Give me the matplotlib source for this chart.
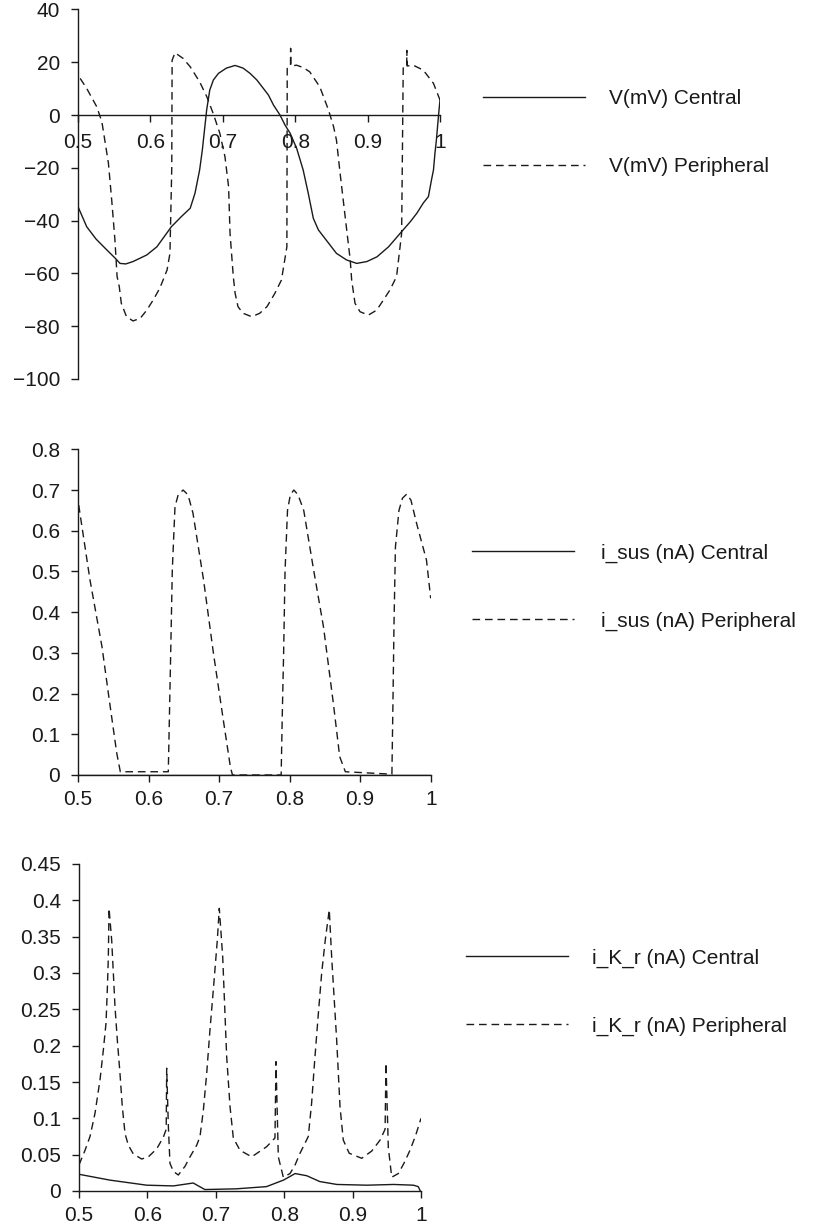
import matplotlib
matplotlib.use("Agg")
import matplotlib.pyplot as plt
from matplotlib.ticker import FuncFormatter

plt.rcParams['font.family'] = ['Liberation Sans', 'DejaVu Sans']
plt.rcParams['font.size'] = 15
plt.rcParams['lines.scale_dashes'] = False

# ---- Membrane potential (mV) ----
t_v_central = [0.500, 0.512, 0.525, 0.538, 0.552, 0.558, 0.566, 0.576, 0.595,
               0.609, 0.629, 0.643, 0.655, 0.6616, 0.668, 0.6717, 0.6777, 0.682,
               0.687, 0.694, 0.705, 0.717, 0.728, 0.7376, 0.747, 0.756, 0.763,
               0.770, 0.779, 0.786, 0.793, 0.802, 0.811, 0.818, 0.825, 0.832,
               0.839, 0.857, 0.871, 0.885, 0.899, 0.913, 0.929, 0.945, 0.959,
               0.968, 0.977, 0.984, 0.9885, 0.991, 0.993, 0.995, 0.998, 1.000]
v_central = [-34.7, -42.3, -47.0, -50.6, -54.4, -56.2, -56.4, -55.5, -53.0,
             -49.9, -42.3, -38.4, -35.3, -29.6, -20.8, -13.3, 1.9, 9.5,
             13.3, 15.8, 17.8, 18.8, 17.8, 15.8, 13.3, 10.1, 7.6,
             3.8, 0.0, -3.8, -6.9, -12.6, -20.8, -29.6, -39.1, -43.5,
             -46.0, -52.4, -54.9, -56.2, -55.5, -53.7, -49.9, -44.8, -40.4,
             -37.2, -33.3, -30.9, -24.2, -20.8, -14.5, -9.5, 0.0, 5.7]

t_v_periph = [0.503, 0.512, 0.526, 0.533, 0.537, 0.542, 0.5465, 0.551, 0.554,
              0.557, 0.5598, 0.567, 0.576, 0.586, 0.595, 0.604, 0.613, 0.623,
              0.627, 0.6295, 0.6300, 0.634, 0.645, 0.655, 0.668, 0.678, 0.687,
              0.696, 0.703, 0.708, 0.710, 0.7145, 0.717, 0.721, 0.728, 0.740,
              0.751, 0.761, 0.772, 0.781, 0.7885, 0.7890, 0.7935, 0.7937, 0.7940,
              0.802, 0.811, 0.820, 0.834, 0.846, 0.853, 0.857, 0.862, 0.869,
              0.876, 0.878, 0.8826, 0.8895, 0.901, 0.9126, 0.922, 0.931, 0.940,
              0.947, 0.9492, 0.9496, 0.9540, 0.9542, 0.9545, 0.963, 0.977, 0.991,
              1.000]
v_periph = [13.9, 10.1, 3.1, -2.6, -9.5, -18.2, -32.0, -47.3, -61.2,
            -65.0, -71.3, -76.4, -78.0, -77.0, -73.9, -70.0, -65.6, -58.7,
            -52.4, -20.0, 20.8, 23.6, 21.5, 18.3, 12.6, 6.9, 0.4,
            -7.0, -15.8, -27.2, -44.8, -61.2, -67.5, -72.6, -75.1, -76.4,
            -75.1, -72.6, -67.5, -62.5, -49.9, 17.7, 18.5, 25.3, 18.6,
            18.9, 18.0, 16.4, 10.7, 1.9, -4.4, -9.5, -22.0, -38.5,
            -54.9, -62.5, -71.3, -74.5, -75.8, -73.9, -70.0, -66.2, -61.2,
            -44.8, 17.7, 18.2, 18.5, 24.5, 18.6, 18.9, 17.0, 12.0,
            5.7]

# ---- Sustained current i_sus (nA) ----
t_isus_central = [0.5, 1.0]
isus_central = [0.0, 0.0]

t_isus_periph = [0.501, 0.517, 0.534, 0.545, 0.555, 0.560, 0.628, 0.6295, 0.6314,
                 0.6337, 0.6375, 0.642, 0.649, 0.656, 0.663, 0.678, 0.692, 0.706,
                 0.716, 0.719, 0.788, 0.7895, 0.7915, 0.7935, 0.797, 0.801, 0.806,
                 0.812, 0.820, 0.834, 0.848, 0.862, 0.871, 0.879, 0.945, 0.9465,
                 0.948, 0.950, 0.955, 0.960, 0.966, 0.972, 0.980, 0.994, 1.000]
isus_periph = [0.663, 0.479, 0.315, 0.176, 0.053, 0.008, 0.008, 0.135, 0.299,
               0.504, 0.659, 0.688, 0.700, 0.688, 0.643, 0.479, 0.299, 0.135,
               0.020, 0.000, 0.000, 0.140, 0.300, 0.500, 0.650, 0.688, 0.700,
               0.688, 0.650, 0.504, 0.364, 0.176, 0.045, 0.008, 0.002, 0.180,
               0.373, 0.560, 0.650, 0.680, 0.690, 0.675, 0.618, 0.528, 0.434]

# ---- Rapid delayed rectifier i_K_r (nA) ----
t_ikr_central = [0.500, 0.545, 0.599, 0.638, 0.667, 0.684, 0.730, 0.774, 0.799,
                 0.816, 0.833, 0.852, 0.877, 0.921, 0.960, 0.989, 0.996, 0.999]
ikr_central = [0.023, 0.015, 0.008, 0.007, 0.011, 0.002, 0.003, 0.006, 0.015,
               0.024, 0.021, 0.013, 0.009, 0.008, 0.009, 0.008, 0.006, 0.000]

t_ikr_periph = [0.500, 0.5088, 0.5161, 0.5234, 0.5307, 0.5356, 0.5395, 0.5414, 0.5429,
                0.5439, 0.5478, 0.5502, 0.5526, 0.5560, 0.5599, 0.5633, 0.5673, 0.5721,
                0.5794, 0.5916, 0.6014, 0.6136, 0.6233, 0.6275, 0.6282, 0.6306, 0.6330,
                0.6379, 0.6452, 0.6550, 0.6623, 0.6721, 0.6769, 0.6818, 0.6867, 0.6915,
                0.6964, 0.7022, 0.7051, 0.7101, 0.7159, 0.7208, 0.7256, 0.7354, 0.7525,
                0.7744, 0.7865, 0.7880, 0.7914, 0.7987, 0.8085, 0.8160, 0.8231, 0.8300,
                0.8352, 0.8400, 0.8450, 0.8500, 0.8548, 0.8600, 0.8659, 0.8694, 0.8767,
                0.8816, 0.8864, 0.8950, 0.9133, 0.9280, 0.9401, 0.9475, 0.9488, 0.9522,
                0.9572, 0.9668, 0.9750, 0.9839, 0.9920, 1.0000]
ikr_periph = [0.036, 0.056, 0.075, 0.107, 0.153, 0.194, 0.231, 0.277, 0.322,
              0.389, 0.345, 0.300, 0.254, 0.208, 0.162, 0.116, 0.079, 0.063,
              0.051, 0.044, 0.047, 0.058, 0.074, 0.085, 0.169, 0.090, 0.038,
              0.027, 0.022, 0.034, 0.047, 0.063, 0.075, 0.111, 0.162, 0.222,
              0.277, 0.345, 0.389, 0.322, 0.185, 0.116, 0.073, 0.056, 0.047,
              0.061, 0.073, 0.178, 0.047, 0.019, 0.024, 0.036, 0.052, 0.065,
              0.075, 0.120, 0.185, 0.245, 0.300, 0.345, 0.387, 0.322, 0.208,
              0.116, 0.070, 0.052, 0.045, 0.055, 0.070, 0.085, 0.176, 0.060,
              0.019, 0.024, 0.038, 0.056, 0.076, 0.100]

x_ticks = [0.5, 0.6, 0.7, 0.8, 0.9, 1.0]
v_ticks = [40, 20, 0, -20, -40, -60, -80, -100]
isus_ticks = [0, 0.1, 0.2, 0.3, 0.4, 0.5, 0.6, 0.7, 0.8]
ikr_ticks = [0, 0.05, 0.1, 0.15, 0.2, 0.25, 0.3, 0.35, 0.4, 0.45]

W, H = 813, 1226
fig = plt.figure(figsize=(W / 100, H / 100), dpi=100)


def rect(x0, y_top, x1, y_bot):
    return [x0 / W, 1 - y_bot / H, (x1 - x0) / W, (y_bot - y_top) / H]


ink = '#1a1a1a'
dash = (0, (5.5, 3.5))
gfmt = FuncFormatter(lambda v, p: ('%g' % v).replace('-', '\u2212'))


def style(ax, yticks, ylim, xpad=6):
    ax.set_xlim(0.5, 1.0)
    ax.set_ylim(*ylim)
    ax.set_xticks(x_ticks)
    ax.set_yticks(yticks)
    ax.xaxis.set_major_formatter(gfmt)
    ax.yaxis.set_major_formatter(gfmt)
    for s in ('top', 'right'):
        ax.spines[s].set_visible(False)
    for s in ('left', 'bottom'):
        ax.spines[s].set_linewidth(1.0)
        ax.spines[s].set_color(ink)
    ax.tick_params(direction='out', length=5, width=1.0, colors=ink,
                   labelcolor=ink, labelsize=15)
    ax.tick_params(axis='y', pad=8)
    ax.tick_params(axis='x', pad=xpad)
    ax.patch.set_alpha(0)


def legend(ax, handles, labels, x_px, y_px, textpad):
    ax.legend(handles, labels, loc='center left',
              bbox_to_anchor=(x_px / W, 1 - y_px / H),
              bbox_transform=fig.transFigure, frameon=False,
              handlelength=4.9, handletextpad=textpad, labelspacing=2.35,
              borderpad=0, borderaxespad=0, fontsize=15,
              labelcolor=ink)


# Panel 1: membrane potential
ax1 = fig.add_axes(rect(78, 9.5, 440, 379))
l1, = ax1.plot(t_v_central, v_central, color=ink, lw=1.0)
l2, = ax1.plot(t_v_periph, v_periph, color=ink, lw=1.0, linestyle=dash)
style(ax1, v_ticks, (-100, 40), xpad=8)
ax1.spines['bottom'].set_position(('data', 0))
legend(ax1, [l1, l2], ['V(mV) Central', 'V(mV) Peripheral'], 483, 132.5, 1.15)

# Panel 2: i_sus
ax2 = fig.add_axes(rect(78, 449.3, 430.7, 775))
l3, = ax2.plot(t_isus_central, isus_central, color=ink, lw=1.0)
l4, = ax2.plot(t_isus_periph, isus_periph, color=ink, lw=1.0, linestyle=dash)
style(ax2, isus_ticks, (0, 0.8))
legend(ax2, [l3, l4], ['i_sus (nA) Central', 'i_sus (nA) Peripheral'], 472, 587, 1.3)

# Panel 3: i_K_r
ax3 = fig.add_axes(rect(79, 864, 421, 1191))
l5, = ax3.plot(t_ikr_central, ikr_central, color=ink, lw=1.0)
l6, = ax3.plot(t_ikr_periph, ikr_periph, color=ink, lw=1.0, linestyle=dash)
style(ax3, ikr_ticks, (0, 0.45))
legend(ax3, [l5, l6], ['i_K_r (nA) Central', 'i_K_r (nA) Peripheral'], 466, 992, 1.15)

fig.savefig('out.png', dpi=100)
